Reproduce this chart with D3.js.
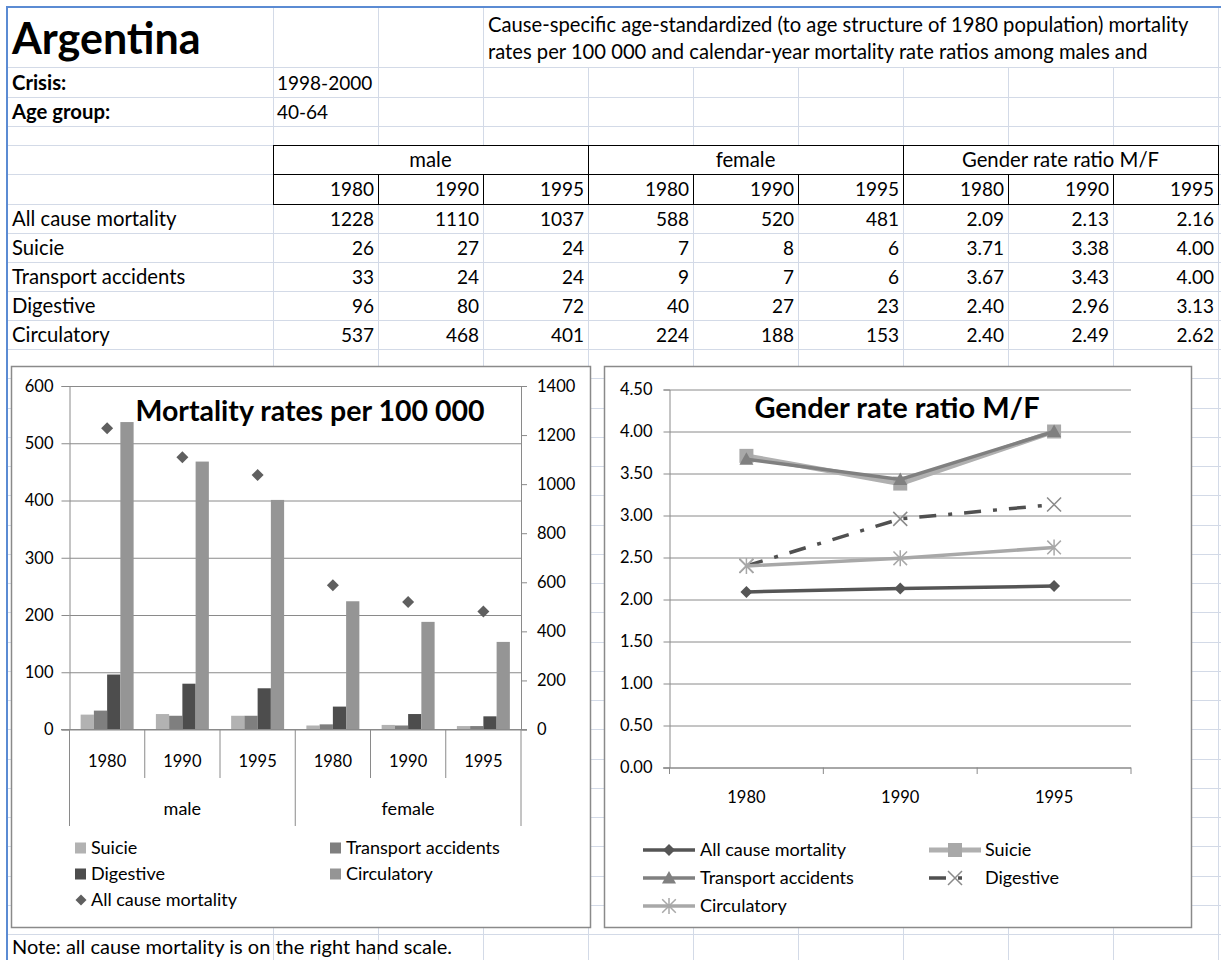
<!DOCTYPE html>
<html>
<head>
<meta charset="utf-8">
<script src="https://cdn.jsdelivr.net/npm/d3@7"></script>
<style>
  body { margin: 0; background: #fff; }
  svg text { font-family: Lato, 'Noto Sans', sans-serif; fill: #000; }
</style>
</head>
<body>
<svg id="sheet" width="1221" height="960"></svg>
<script>
'use strict';

// ---- data read from the sheet ----
var years = ['1980', '1990', '1995'];
var sexes = ['male', 'female'];
var causes = ['All cause mortality', 'Suicie', 'Transport accidents', 'Digestive', 'Circulatory'];

var allCauseMale = [1228, 1110, 1037];
var allCauseFemale = [588, 520, 481];
var suicieMale = [26, 27, 24];
var suicieFemale = [7, 8, 6];
var transportMale = [33, 24, 24];
var transportFemale = [9, 7, 6];
var digestiveMale = [96, 80, 72];
var digestiveFemale = [40, 27, 23];
var circulatoryMale = [537, 468, 401];
var circulatoryFemale = [224, 188, 153];

var allCauseRatio = [2.09, 2.13, 2.16];
var suicieRatio = [3.71, 3.38, 4.00];
var transportRatio = [3.67, 3.43, 4.00];
var digestiveRatio = [2.40, 2.96, 3.13];
var circulatoryRatio = [2.40, 2.49, 2.62];

var leftTicks = [0, 100, 200, 300, 400, 500, 600];
var rightTicks = [0, 200, 400, 600, 800, 1000, 1200, 1400];
var ratioTicks = [0, 0.5, 1, 1.5, 2, 2.5, 3, 3.5, 4, 4.5];

var maleSets = [allCauseMale, suicieMale, transportMale, digestiveMale, circulatoryMale];
var femaleSets = [allCauseFemale, suicieFemale, transportFemale, digestiveFemale, circulatoryFemale];
var ratioSets = [allCauseRatio, suicieRatio, transportRatio, digestiveRatio, circulatoryRatio];

var svg = d3.select('#sheet');

/*
  spreadsheet background
*/
var cols = [273, 378, 483, 588, 693, 798, 903, 1008, 1113, 1218];
var rowLines = [67, 97, 126, 145, 174, 204, 233, 262, 291, 320, 349]
  .concat(d3.range(1, 22).map(function(k) { return Math.round(349 + 29.25 * k); }));
var gridColor = '#d3dae7';

svg.append('g').selectAll('line').data(rowLines).enter().append('line')
  .attr('x1', 7).attr('x2', 1221)
  .attr('y1', function(d) { return d + 0.5; }).attr('y2', function(d) { return d + 0.5; })
  .attr('stroke', gridColor);
svg.append('g').selectAll('line').data(cols).enter().append('line')
  .attr('x1', function(d) { return d + 0.5; }).attr('x2', function(d) { return d + 0.5; })
  .attr('y1', 7).attr('y2', 960)
  .attr('stroke', gridColor);

// merged cells
svg.append('rect').attr('x', 484).attr('y', 8).attr('width', 734).attr('height', 59).attr('fill', '#fff');
svg.append('rect').attr('x', 273).attr('y', 145).attr('width', 945).attr('height', 59).attr('fill', '#fff');

// blue frame
svg.append('path').attr('d', 'M7,960 V7 H1221').attr('fill', 'none')
  .attr('stroke', '#5b8bd3').attr('stroke-width', 2);

// titles
svg.append('text').attr('x', 12).attr('y', 54)
  .style('font-size', '43px').style('font-weight', 'bold').text('Argentina');
svg.selectAll('.intro')
  .data(['Cause-specific age-standardized (to age structure of 1980 population) mortality',
    'rates per 100 000 and calendar-year mortality rate ratios among males and'])
  .enter().append('text')
  .attr('x', 488).attr('y', function(d, i) { return 25 + i * 27; }).attr('dy', '0.35em')
  .style('font-size', '20.2px').text(function(d) { return d; });

var textFont = '20.3px', numFont = '19px';
function cell(txt, x, y, anchor, bold, size) {
  svg.append('text').attr('x', x).attr('y', y).attr('dy', '0.35em')
    .attr('text-anchor', anchor || 'start')
    .style('font-size', size || textFont).style('font-weight', bold ? 'bold' : 'normal')
    .text(txt);
}
cell('Crisis:', 12, 83, 'start', true);
cell('1998-2000', 277, 83, 'start', false, numFont);
cell('Age group:', 12, 112, 'start', true);
cell('40-64', 277, 112, 'start', false, numFont);

// table head borders
var head = svg.append('g').attr('stroke', '#000').attr('fill', 'none');
head.append('rect').attr('x', 273.5).attr('y', 145.5).attr('width', 945).attr('height', 59);
head.append('line').attr('x1', 273).attr('x2', 1219).attr('y1', 174.5).attr('y2', 174.5);
cols.slice(1, -1).forEach(function(c, i) {
  head.append('line').attr('x1', c + 0.5).attr('x2', c + 0.5)
    .attr('y1', (i % 3 === 2) ? 145 : 174).attr('y2', 205);
});
var groups = ['male', 'female', 'Gender rate ratio M/F'];
groups.forEach(function(g, i) {
  cell(g, (cols[i * 3] + cols[i * 3 + 3]) / 2, 160, 'middle');
  years.forEach(function(y, j) { cell(y, cols[i * 3 + j + 1] - 4, 189, 'end', false, numFont); });
});

var rowCenters = [219, 248, 277, 306, 335];
causes.forEach(function(c, r) {
  cell(c, 12, rowCenters[r]);
  years.forEach(function(y, j) {
    cell(maleSets[r][j], cols[j + 1] - 4, rowCenters[r], 'end', false, numFont);
    cell(femaleSets[r][j], cols[j + 4] - 4, rowCenters[r], 'end', false, numFont);
    cell(ratioSets[r][j].toFixed(2), cols[j + 7] - 4, rowCenters[r], 'end', false, numFont);
  });
});

cell('Note: all cause mortality is on the right hand scale.', 12, 947, 'start', false, '20px');

/*
  chart 1: mortality rates (bars) with all cause on right scale
*/
var axisGray = '#8a8a8a';
var labelSize = '16.5px';
var legendSize = '18px';
var c1 = svg.append('g');
c1.append('rect').attr('x', 11.5).attr('y', 366.5).attr('width', 579).attr('height', 561)
  .attr('fill', '#fff').attr('stroke', axisGray).attr('stroke-width', 1.5);

var cats = [];
sexes.forEach(function(s) { years.forEach(function(y) { cats.push(s + ' ' + y); }); });
var x0 = d3.scaleBand().domain(cats).range([69.5, 521]);
var barCauses = causes.slice(1);
var x1 = d3.scaleBand().domain(barCauses)
  .range([x0.bandwidth() * 0.148, x0.bandwidth() * 0.852]);
var yL = d3.scaleLinear().domain([0, 600]).range([729.5, 386]);
var yR = d3.scaleLinear().domain([0, 1400]).range([729.5, 386]);
var barColors = { 'Suicie': '#b2b2b2', 'Transport accidents': '#7f7f7f', 'Digestive': '#4d4d4d', 'Circulatory': '#959595' };

// gridlines
c1.append('g').attr('transform', 'translate(69.5,0)')
  .call(d3.axisLeft(yL).tickValues(leftTicks).tickSize(-451.5).tickFormat(''))
  .call(function(g) { g.select('.domain').remove(); g.selectAll('line').attr('stroke', axisGray); });

var barData = [];
sexes.forEach(function(s, si) {
  years.forEach(function(y, yi) {
    barCauses.forEach(function(c, ci) {
      var set = (si === 0 ? maleSets : femaleSets)[ci + 1];
      barData.push({ cat: s + ' ' + y, cause: c, value: set[yi] });
    });
  });
});
c1.append('g').selectAll('rect').data(barData).enter().append('rect')
  .attr('x', function(d) { return x0(d.cat) + x1(d.cause); })
  .attr('width', x1.bandwidth())
  .attr('y', function(d) { return yL(d.value); })
  .attr('height', function(d) { return yL(0) - yL(d.value); })
  .attr('fill', function(d) { return barColors[d.cause]; });

var leftAxis = c1.append('g').attr('transform', 'translate(69.5,0)')
  .call(d3.axisLeft(yL).tickValues(leftTicks).tickSize(8).tickPadding(8).tickFormat(d3.format('d')));
var rightAxis = c1.append('g').attr('transform', 'translate(521,0)')
  .call(d3.axisRight(yR).tickValues(rightTicks).tickSize(6).tickPadding(10).tickFormat(d3.format('d')));
[leftAxis, rightAxis].forEach(function(a) {
  a.selectAll('line, path').attr('stroke', axisGray);
  a.selectAll('text').style('font-size', labelSize).style('font-family', 'Lato').attr('fill', '#000');
});
c1.append('line').attr('x1', 61).attr('x2', 527).attr('y1', 729.5).attr('y2', 729.5).attr('stroke', axisGray);

// all cause diamonds
var diamond = function(r) { return 'M0,' + (-r) + 'L' + r + ',0L0,' + r + 'L' + (-r) + ',0Z'; };
var allData = [];
sexes.forEach(function(s, si) {
  years.forEach(function(y, yi) {
    allData.push({ cat: s + ' ' + y, value: (si === 0 ? allCauseMale : allCauseFemale)[yi] });
  });
});
c1.append('g').selectAll('path').data(allData).enter().append('path')
  .attr('d', diamond(6))
  .attr('transform', function(d) { return 'translate(' + (x0(d.cat) + x0.bandwidth() / 2) + ',' + yR(d.value) + ')'; })
  .attr('fill', '#5f5f5f');

// multi-level category axis
var catEdges = cats.map(function(c) { return x0(c); }).concat([x0.range()[1]]);
c1.append('g').selectAll('line').data(catEdges).enter().append('line')
  .attr('x1', function(d) { return d; }).attr('x2', function(d) { return d; })
  .attr('y1', 729.5).attr('y2', function(d, i) { return i % 3 === 0 ? 826 : 778; })
  .attr('stroke', axisGray);
c1.append('g').selectAll('text').data(cats).enter().append('text')
  .attr('x', function(d) { return x0(d) + x0.bandwidth() / 2; }).attr('y', 761).attr('dy', '0.35em')
  .attr('text-anchor', 'middle').style('font-size', labelSize)
  .text(function(d) { return d.split(' ')[1]; });
c1.append('g').selectAll('text').data(sexes).enter().append('text')
  .attr('x', function(d, i) { return x0(cats[i * 3]) + x0.bandwidth() * 1.5; }).attr('y', 809).attr('dy', '0.35em')
  .attr('text-anchor', 'middle').style('font-size', legendSize)
  .text(function(d) { return d; });

c1.append('text').attr('x', 310).attr('y', 421).attr('text-anchor', 'middle')
  .style('font-size', '28.5px').style('font-weight', 'bold').text('Mortality rates per 100 000');

// legend
var leg1 = barCauses.concat([causes[0]]);
leg1.forEach(function(c, i) {
  var lx = i % 2 === 0 ? 75 : 330, ly = 848 + Math.floor(i / 2) * 26;
  if (c === causes[0]) {
    c1.append('path').attr('d', diamond(5.5)).attr('transform', 'translate(' + (lx + 6) + ',' + ly + ')').attr('fill', '#5f5f5f');
  } else {
    c1.append('rect').attr('x', lx).attr('y', ly - 5.5).attr('width', 11).attr('height', 11).attr('fill', barColors[c]);
  }
  c1.append('text').attr('x', lx + 16).attr('y', ly).attr('dy', '0.35em').style('font-size', legendSize).text(c);
});

/*
  chart 2: gender rate ratio lines
*/
var c2 = svg.append('g');
c2.append('rect').attr('x', 604.5).attr('y', 366.5).attr('width', 587).attr('height', 561)
  .attr('fill', '#fff').attr('stroke', axisGray).attr('stroke-width', 1.5);

var xc = d3.scaleBand().domain(years).range([669.5, 1131]);
var yr = d3.scaleLinear().domain([0, 4.5]).range([767.5, 389.5]);
var px = function(y) { return xc(y) + xc.bandwidth() / 2; };

c2.append('g').attr('transform', 'translate(669.5,0)')
  .call(d3.axisLeft(yr).tickValues(ratioTicks).tickSize(-461.5).tickFormat(''))
  .call(function(g) { g.select('.domain').remove(); g.selectAll('line').attr('stroke', axisGray); });
var rAxis = c2.append('g').attr('transform', 'translate(669.5,0)')
  .call(d3.axisLeft(yr).tickValues(ratioTicks).tickSize(6).tickPadding(11).tickFormat(d3.format('.2f')));
var xAxis = c2.append('g').attr('transform', 'translate(0,767.5)')
  .call(d3.axisBottom(xc).tickSize(0).tickPadding(24));
var xEdges = years.map(function(y) { return xc(y); }).concat([xc.range()[1]]);
c2.append('g').selectAll('line').data(xEdges).enter().append('line')
  .attr('x1', function(d) { return d; }).attr('x2', function(d) { return d; })
  .attr('y1', 767.5).attr('y2', 774).attr('stroke', axisGray);
[rAxis, xAxis].forEach(function(a) {
  a.selectAll('line, path').attr('stroke', axisGray);
  a.selectAll('text').style('font-size', labelSize).style('font-family', 'Lato').attr('fill', '#000');
});
xAxis.select('.domain').attr('d', 'M663,0.5H1131');

c2.append('text').attr('x', 897).attr('y', 418).attr('text-anchor', 'middle')
  .style('font-size', '29px').style('font-weight', 'bold').text('Gender rate ratio M/F');

var square = function(r) { return 'M' + (-r) + ',' + (-r) + 'h' + 2 * r + 'v' + 2 * r + 'h' + (-2 * r) + 'Z'; };
var triangle = function(r) { return 'M0,' + (-r) + 'L' + r + ',' + r * 0.8 + 'L' + (-r) + ',' + r * 0.8 + 'Z'; };
var cross = function(r) { return 'M' + (-r) + ',' + (-r) + 'L' + r + ',' + r + 'M' + r + ',' + (-r) + 'L' + (-r) + ',' + r; };
var star = function(r) { return cross(r * 0.85) + 'M0,' + (-r) + 'V' + r; };

var lineSeries = [
  { name: causes[0], values: allCauseRatio, color: '#555555', width: 3.5, dash: null,
    marker: diamond(6), mFill: '#555555', mStroke: 'none', mWidth: 0 },
  { name: causes[1], values: suicieRatio, color: '#b0b0b0', width: 5, dash: null,
    marker: square(7), mFill: '#a8a8a8', mStroke: 'none', mWidth: 0 },
  { name: causes[2], values: transportRatio, color: '#808080', width: 3.5, dash: null,
    marker: triangle(7), mFill: '#808080', mStroke: 'none', mWidth: 0 },
  { name: causes[3], values: digestiveRatio, color: '#505050', width: 3.5, dash: '17,12,4,12',
    marker: cross(7), mFill: 'none', mStroke: '#8a8a8a', mWidth: 1.5 },
  { name: causes[4], values: circulatoryRatio, color: '#a8a8a8', width: 3.5, dash: null,
    marker: star(8), mFill: 'none', mStroke: '#a8a8a8', mWidth: 1.5 }
];
var line = d3.line().x(function(d, i) { return px(years[i]); }).y(function(d) { return yr(d); });

lineSeries.forEach(function(s) {
  c2.append('path').datum(s.values).attr('d', line).attr('fill', 'none')
    .attr('stroke', s.color).attr('stroke-width', s.width).attr('stroke-dasharray', s.dash);
  c2.append('g').selectAll('path').data(s.values).enter().append('path')
    .attr('d', s.marker)
    .attr('transform', function(d, i) { return 'translate(' + px(years[i]) + ',' + yr(d) + ')'; })
    .attr('fill', s.mFill).attr('stroke', s.mStroke).attr('stroke-width', s.mWidth);
});

lineSeries.forEach(function(s, i) {
  var lx = i % 2 === 0 ? 643 : 929, ly = 850 + Math.floor(i / 2) * 28;
  var tx = i % 2 === 0 ? 700 : 985;
  c2.append('line').attr('x1', lx).attr('x2', lx + (s.dash ? 36 : 52)).attr('y1', ly).attr('y2', ly)
    .attr('stroke', s.color).attr('stroke-width', s.width).attr('stroke-dasharray', s.dash);
  c2.append('path').attr('d', s.marker).attr('transform', 'translate(' + (lx + 26) + ',' + ly + ')')
    .attr('fill', s.mFill).attr('stroke', s.mStroke).attr('stroke-width', s.mWidth);
  c2.append('text').attr('x', tx).attr('y', ly).attr('dy', '0.35em').style('font-size', legendSize).text(s.name);
});
</script>
</body>
</html>
